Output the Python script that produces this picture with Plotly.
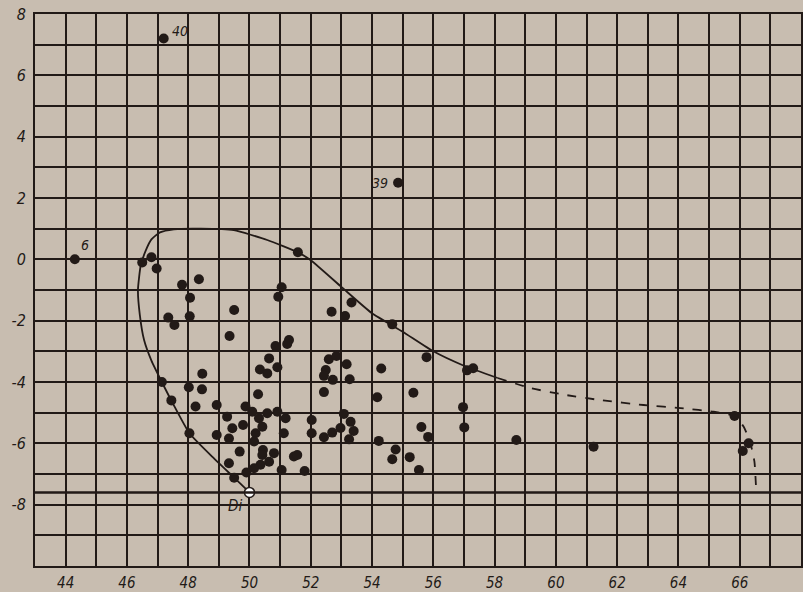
import plotly.graph_objects as go

# ---- data ----
pts_x = [46.5, 46.8, 46.97, 47.8, 48.35, 48.06, 47.35, 47.55, 48.05, 49.5, 49.35,
         47.14, 48.02, 48.46, 48.45, 50.64, 50.34, 50.58, 50.91, 50.28, 47.45,
         48.24, 48.93, 49.87, 49.27, 50.09, 50.31, 50.58, 50.91, 51.18, 49.79,
         49.44, 48.04, 48.93, 49.33, 50.42, 50.2, 51.12, 50.15, 49.68, 50.44,
         50.42, 50.8, 51.45, 51.56, 49.33, 50.64, 50.36, 50.15, 51.05, 51.8,
         49.9, 49.5, 51.58, 51.05, 50.94, 52.68, 53.12, 53.33, 54.66, 51.29,
         51.23, 50.85, 52.59, 52.84, 53.17, 52.49, 52.43, 52.72, 53.27, 54.3,
         55.78, 57.1, 57.3, 52.43, 54.17, 55.35, 52.03, 52.03, 53.08, 53.3,
         52.97, 53.4, 52.7, 52.43, 53.25, 54.22, 54.77, 54.66, 55.23, 55.53,
         55.61, 55.83, 56.97, 57.01, 58.71, 61.23, 65.83, 66.29, 66.1]
pts_y = [-0.1, 0.07, -0.3, -0.83, -0.65, -1.25, -1.9, -2.14, -1.86, -1.65, -2.5,
         -4.0, -4.17, -3.73, -4.24, -3.23, -3.59, -3.72, -3.52, -4.4, -4.6,
         -4.8, -4.75, -4.8, -5.13, -4.97, -5.18, -5.02, -4.97, -5.18, -5.4,
         -5.51, -5.67, -5.73, -5.84, -5.46, -5.67, -5.67, -5.94, -6.27, -6.22,
         -6.38, -6.32, -6.43, -6.38, -6.65, -6.6, -6.7, -6.81, -6.87, -6.9,
         -6.95, -7.12, 0.23, -0.91, -1.22, -1.71, -1.85, -1.41, -2.12, -2.63,
         -2.76, -2.83, -3.26, -3.15, -3.42, -3.61, -3.8, -3.93, -3.91, -3.56,
         -3.19, -3.62, -3.55, -4.33, -4.5, -4.35, -5.24, -5.67, -5.04, -5.3,
         -5.5, -5.6, -5.65, -5.8, -5.87, -5.92, -6.2, -6.52, -6.45, -6.87,
         -5.47, -5.79, -4.82, -5.48, -5.89, -6.11, -5.11, -6.0, -6.25]

labeled_x = [47.2, 44.3, 54.85]
labeled_y = [7.2, 0.0, 2.5]
labeled_txt = ["40", "6", "39"]

di_x = [50.0]
di_y = [-7.6]

env_solid_x = [50.0, 49.5, 48.8, 48.04, 47.5, 47.14, 46.8, 46.56, 46.42, 46.36, 46.45,
               46.62, 46.8, 47.08, 47.53, 48.41, 49.49, 50.58, 51.58, 52.0, 53.0, 54.0,
               55.0, 56.0, 57.0, 58.1]
env_solid_y = [-7.6, -7.12, -6.45, -5.67, -4.7, -4.0, -3.3, -2.63, -1.8, -1.0, -0.2,
               0.3, 0.65, 0.88, 0.98, 1.0, 0.95, 0.63, 0.23, -0.03, -0.9, -1.76,
               -2.36, -3.0, -3.47, -3.87]
env_dash_x = [58.1, 59.18, 60.3, 61.45, 62.86, 64.17, 65.15, 65.83, 66.13, 66.35, 66.48, 66.54]
env_dash_y = [-3.87, -4.2, -4.42, -4.59, -4.75, -4.86, -4.97, -5.11, -5.46, -6.0, -6.6, -7.6]

base_y = -7.6

x_ticks = [44, 46, 48, 50, 52, 54, 56, 58, 60, 62, 64, 66]
y_ticks = [8, 6, 4, 2, 0, -2, -4, -6, -8]
y_ticktext = ["8", "6", "4", "2", "0", "-2", "-4", "-6", "-8"]

# ---- style ----
BG = "#c8bdb0"
INK = "#221a17"
FONT = dict(family="DejaVu Sans Condensed, Liberation Sans Narrow, sans-serif",
            size=16, color=INK, style="italic")

fig = go.Figure()

fig.add_trace(go.Scatter(x=env_solid_x, y=env_solid_y, mode="lines",
                         line=dict(color=INK, width=1.8, shape="spline", smoothing=0.5),
                         hoverinfo="skip", showlegend=False))
fig.add_trace(go.Scatter(x=env_dash_x, y=env_dash_y, mode="lines",
                         line=dict(color=INK, width=1.8, dash="dash", shape="spline", smoothing=0.5),
                         hoverinfo="skip", showlegend=False))

fig.add_trace(go.Scatter(x=pts_x, y=pts_y, mode="markers",
                         marker=dict(size=10, color=INK), showlegend=False))

fig.add_trace(go.Scatter(x=labeled_x, y=labeled_y, mode="markers",
                         marker=dict(size=10, color=INK), showlegend=False))

fig.add_trace(go.Scatter(x=di_x, y=di_y, mode="markers",
                         marker=dict(size=10, color="white", line=dict(color=INK, width=1.5)),
                         showlegend=False))

# labels next to points
label_shift = [(16, -8), (10, -14), (-18, 0)]
for x, y, t, (dx, dy) in zip(labeled_x, labeled_y, labeled_txt, label_shift):
    fig.add_annotation(x=x, y=y, text=t, showarrow=False, xshift=dx, yshift=-dy,
                       font=dict(FONT, size=14))
fig.add_annotation(x=di_x[0], y=di_y[0], text="Di", showarrow=False,
                   xshift=-14, yshift=-14, font=dict(FONT, size=15))

# horizontal base line
fig.add_shape(type="line", xref="paper", x0=0, x1=1, yref="y", y0=base_y, y1=base_y,
              line=dict(color=INK, width=2.5))

fig.update_xaxes(range=[43, 68], tickvals=x_ticks, showgrid=True, gridcolor=INK, gridwidth=1.7,
                 minor=dict(dtick=1, tick0=43, showgrid=True, gridcolor=INK, gridwidth=1.7),
                 showline=True, linecolor=INK, linewidth=2, mirror=True, automargin=False,
                 zeroline=False, ticks="", tickfont=dict(FONT, size=15), ticklabelstandoff=2)
fig.update_yaxes(range=[-10, 8], tickvals=y_ticks, ticktext=y_ticktext,
                 showgrid=True, gridcolor=INK, gridwidth=1.7,
                 minor=dict(dtick=1, tick0=0, showgrid=True, gridcolor=INK, gridwidth=1.7),
                 showline=True, linecolor=INK, linewidth=2, mirror=True, automargin=False,
                 zeroline=False, ticks="", tickfont=FONT, ticklabelstandoff=4)

fig.update_layout(width=803, height=592, paper_bgcolor=BG, plot_bgcolor=BG,
                  margin=dict(l=35, r=2, t=14, b=26), showlegend=False)

fig.write_html("out.html", config={"displayModeBar": False},
               post_script="document.body.style.margin='0px';document.body.style.background='%s';" % BG)
